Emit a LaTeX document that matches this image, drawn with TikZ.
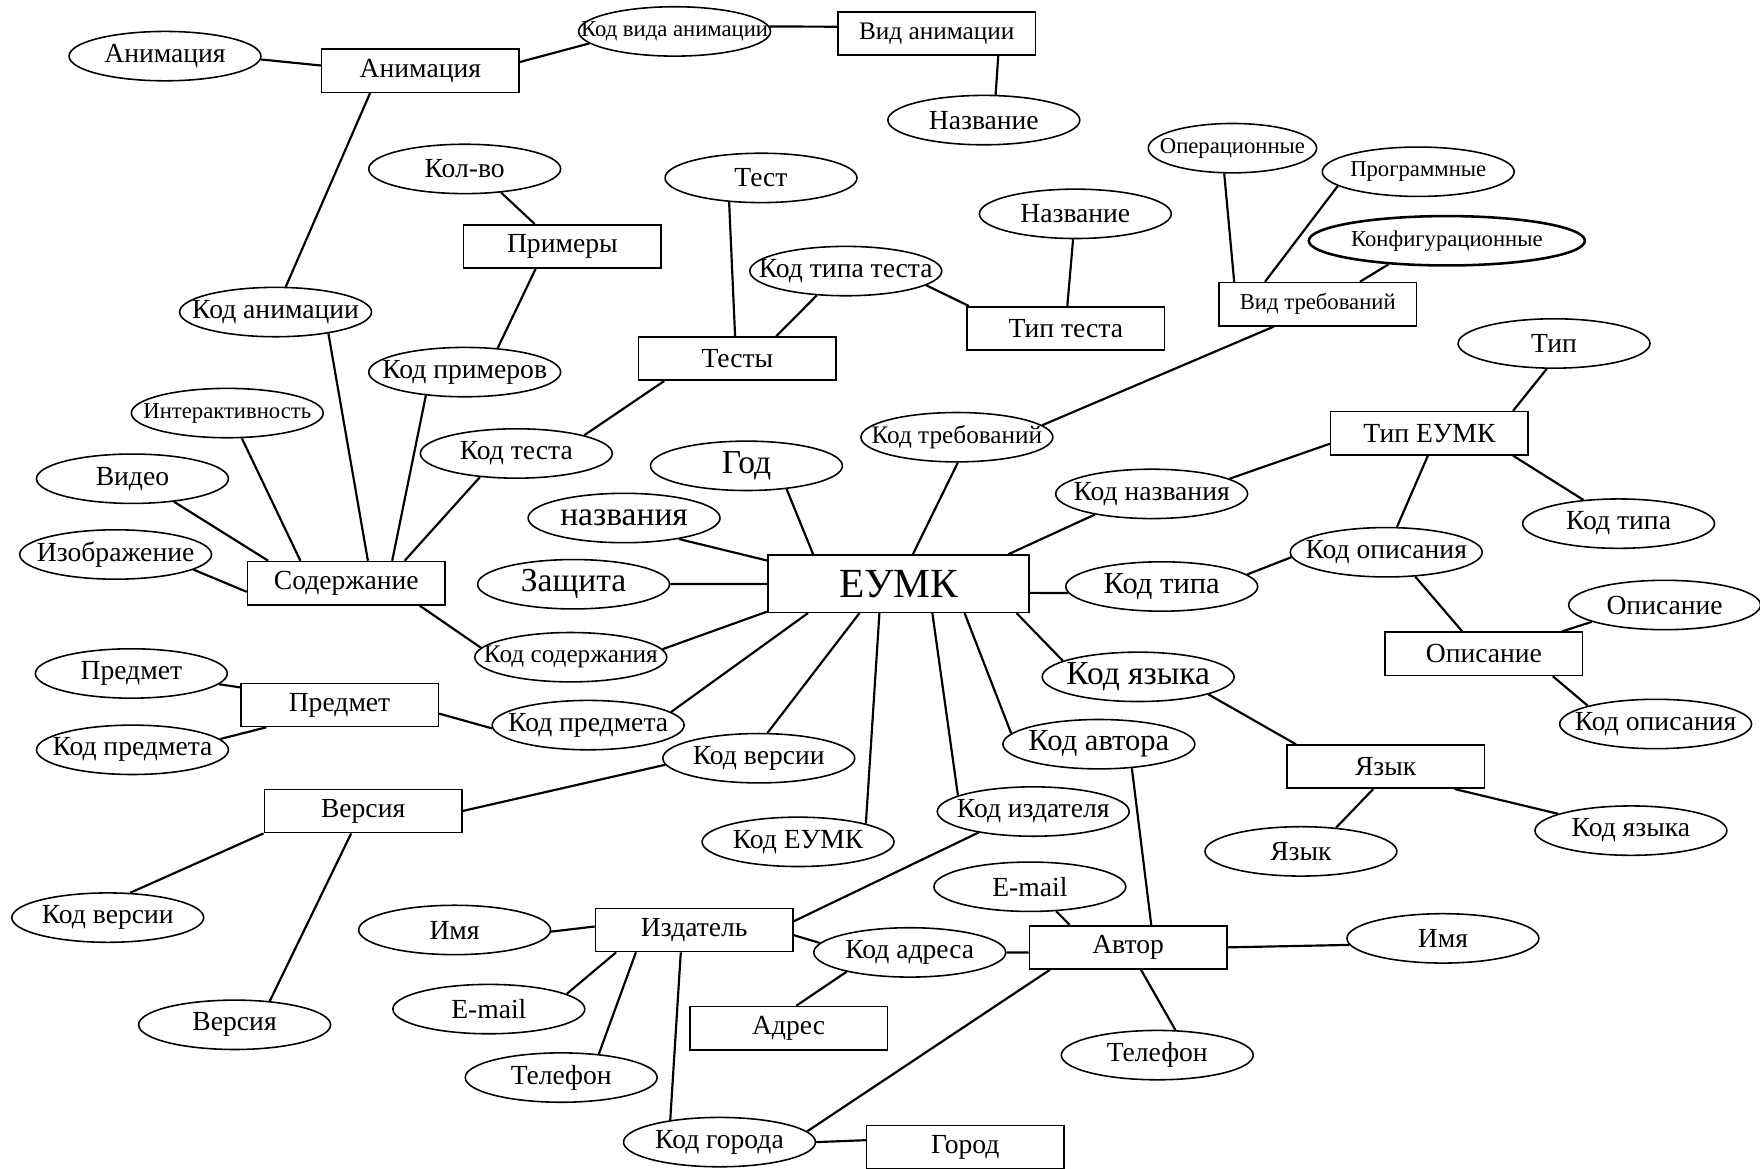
\documentclass[tikz,border=0pt]{standalone}
\usepackage{fontspec}
\setmainfont{Liberation Serif}
\usetikzlibrary{shapes.geometric}
\newcommand{\zw}[1]{\makebox[0pt]{#1}}
\tikzset{
  ent/.style={draw, line width=0.8pt, inner sep=0pt, minimum width=3.52cm, minimum height=0.77cm, font=\fontsize{14}{16}\selectfont},
  attr/.style={draw, ellipse, line width=0.8pt, inner sep=0pt, minimum width=3.42cm, minimum height=0.88cm, font=\fontsize{14}{16}\selectfont},
  smtxt/.style={font=\fontsize{11.5}{13}\selectfont},
  mdtxt/.style={font=\fontsize{12.8}{14}\selectfont},
  lgtxt/.style={font=\fontsize{15.5}{17}\selectfont},
  bgtxt/.style={font=\fontsize{17}{19}\selectfont},
  link/.style={line width=1.1pt},
}
\begin{document}
\begin{tikzpicture}[x=0.02cm, y=-0.02cm]
    \clip (0,0) rectangle (1568,1041);
    % entities
    \node[ent] (anim) at (374.5,63) {Анимация};
    \node[ent, mdtxt] (vidanim) at (834.5,30) {Вид анимации};
    \node[ent] (primery) at (501,219.5) {Примеры};
    \node[ent] (testy) at (657,319.5) {Тесты};
    \node[ent] (tiptesta) at (949.5,292.5) {Тип теста};
    \node[ent, smtxt] (vidtreb) at (1174,271) {Вид требований};
    \node[ent] (tipeumk) at (1273.5,386) {Тип ЕУМК};
    \node[ent] (soderzh) at (308.5,519.5) {Содержание};
    \node[ent] (opisanie) at (1322,582.5) {Описание};
    \node[ent] (predmet) at (302.5,628) {Предмет};
    \node[ent] (yazyk) at (1234.5,683) {Язык};
    \node[ent] (versiya) at (323.5,722.5) {Версия};
    \node[ent] (izdatel) at (618.5,828.5) {Издатель};
    \node[ent] (avtor) at (1005,844) {Автор};
    \node[ent] (adres) at (702.5,916) {Адрес};
    \node[ent] (gorod) at (860,1022) {Город};
    \node[ent, minimum width=4.66cm, minimum height=1.02cm, font=\fontsize{21}{24}\selectfont] (eumk) at (800.5,520) {ЕУМК};
    % attributes
    \node[attr] (a_anim) at (147,50) {\zw{Анимация}};
    \node[attr, smtxt] (a_kvidanim) at (601,28) {\zw{Код вида анимации}};
    \node[attr] (a_nazv1) at (876.5,107) {\zw{Название}};
    \node[attr] (a_kolvo) at (414,150.5) {\zw{Кол-во}};
    \node[attr] (a_test) at (678,158.5) {\zw{Тест}};
    \node[attr] (a_ktiptesta) at (753.5,241.5) {\zw{Код типа теста}};
    \node[attr] (a_nazv2) at (958,190.5) {\zw{Название}};
    \node[attr, smtxt, minimum width=3cm] (a_oper) at (1098,132) {\zw{Операционные}};
    \node[attr, smtxt] (a_progr) at (1263.5,153) {\zw{Программные}};
    \node[attr, smtxt, minimum width=4.92cm, line width=1.3pt] (a_konf) at (1289,214.5) {\zw{Конфигурационные}};
    \node[attr] (a_kanim) at (245.5,278) {\zw{Код анимации}};
    \node[attr] (a_kprim) at (414,331.5) {\zw{Код примеров}};
    \node[attr, smtxt] (a_inter) at (202.5,368) {\zw{Интерактивность}};
    \node[attr] (a_ktest) at (460,404) {\zw{Код теста}};
    \node[attr, mdtxt] (a_ktreb) at (852.5,389.5) {\zw{Код требований}};
    \node[attr] (a_tip) at (1384.5,306) {\zw{Тип}};
    \node[attr, bgtxt] (a_god) at (665,415) {\zw{Год}};
    \node[attr] (a_video) at (118,426.5) {\zw{Видео}};
    \node[attr, bgtxt] (a_nazvaniya) at (556,461.5) {\zw{названия}};
    \node[attr] (a_knazv) at (1026,440) {\zw{Код названия}};
    \node[attr] (a_kopis1) at (1235,492) {\zw{Код описания}};
    \node[attr] (a_ktipa2) at (1442,466.5) {\zw{Код типа}};
    \node[attr] (a_izobr) at (103,494) {\zw{Изображение}};
    \node[attr, bgtxt] (a_zashch) at (511,520.5) {\zw{Защита}};
    \node[attr, lgtxt] (a_ktipa1) at (1035,522.5) {\zw{Код типа}};
    \node[attr] (a_opis) at (1483,539) {\zw{Описание}};
    \node[attr, mdtxt] (a_ksod) at (508.5,585.5) {\zw{Код содержания}};
    \node[attr] (a_predm) at (117,600) {\zw{Предмет}};
    \node[attr, bgtxt] (a_kyaz1) at (1014,603) {\zw{Код языка}};
    \node[attr] (a_kpredm1) at (118,668) {\zw{Код предмета}};
    \node[attr] (a_kpredm2) at (524,646) {\zw{Код предмета}};
    \node[attr] (a_kopis2) at (1475,645) {\zw{Код описания}};
    \node[attr, lgtxt] (a_kavt) at (979,663) {\zw{Код автора}};
    \node[attr] (a_kvers2) at (676,675.5) {\zw{Код версии}};
    \node[attr] (a_kyaz2) at (1453,740) {\zw{Код языка}};
    \node[attr] (a_kizd) at (920.5,723) {\zw{Код издателя}};
    \node[attr] (a_keumk) at (711,750) {\zw{Код ЕУМК}};
    \node[attr] (a_yazyk) at (1159,758.5) {\zw{Язык}};
    \node[attr] (a_email2) at (917.5,790) {\zw{E-mail}};
    \node[attr] (a_kvers1) at (96,817.5) {\zw{Код версии}};
    \node[attr] (a_imya1) at (405,828.5) {\zw{Имя}};
    \node[attr] (a_kadr) at (810.5,848.5) {\zw{Код адреса}};
    \node[attr] (a_imya2) at (1285.5,836) {\zw{Имя}};
    \node[attr] (a_email1) at (435.5,899) {\zw{E-mail}};
    \node[attr] (a_versiya) at (209,913) {\zw{Версия}};
    \node[attr] (a_tel2) at (1031,940) {\zw{Телефон}};
    \node[attr] (a_tel1) at (500,960) {\zw{Телефон}};
    \node[attr] (a_kgor) at (641,1017.5) {\zw{Код города}};
    % links
    \draw[link] (a_anim.-2) -- (anim.177);
    \draw[link] (anim.5) -- (a_kvidanim.188);
    \draw[link] (a_kvidanim.3) -- (vidanim.176);
    \draw[link] (vidanim.-20) -- (a_nazv1.65);
    \draw[link] (anim.204) -- (a_kanim.68);
    \draw[link] (a_kanim.-22) -- (soderzh.46);
    \draw[link] (a_kolvo.-33) -- (primery.141);
    \draw[link] (primery.220) -- (a_kprim.36);
    \draw[link] (a_kprim.211) -- (soderzh.26);
    \draw[link] (a_inter.-60) -- (soderzh.154);
    \draw[link] (a_video.-29) -- (soderzh.164);
    \draw[link] (a_izobr.-11) -- (soderzh.185);
    \draw[link] (a_ktest.213) -- (soderzh.21);
    \draw[link] (testy.197) -- (a_ktest.15);
    \draw[link] (testy.96) -- (a_test.217);
    \draw[link] (testy.30) -- (a_ktiptesta.220);
    \draw[link] (a_ktiptesta.-10) -- (tiptesta.167);
    \draw[link] (a_nazv2.265) -- (tiptesta.86);
    \draw[link] (a_oper.252) -- (vidtreb.165);
    \draw[link] (a_progr.190) -- (vidtreb.157);
    \draw[link] (a_konf.202) -- (vidtreb.28);
    \draw[link] (vidtreb.207) -- (a_ktreb.8);
    \draw[link] (a_ktreb.272) -- (eumk.64);
    \draw[link] (a_god.-30) -- (eumk.161);
    \draw[link] (a_nazvaniya.-21) -- (eumk.170);
    \draw[link] (a_zashch) -- (eumk);
    \draw[link] (a_ksod.5) -- (eumk.192);
    \draw[link] (a_ksod.174) -- (soderzh.-17);
    \draw[link] (a_kpredm2.9) -- (eumk.198);
    \draw[link] (predmet.-5) -- (a_kpredm2.182);
    \draw[link] (a_predm.-7) -- (predmet.170);
    \draw[link] (a_kpredm1.7) -- (predmet.197);
    \draw[link] (a_kvers2.71) -- (eumk.217);
    \draw[link] (versiya.east) -- (a_kvers2.184);
    \draw[link] (versiya.south west) -- (a_kvers1.48);
    \draw[link] (versiya.242) -- (a_versiya.34);
    \draw[link] (a_keumk.15) -- (eumk.237);
    \draw[link] (eumk.-41) -- (a_kizd.168);
    \draw[link] (eumk.-24) -- (a_kavt.173);
    \draw[link] (eumk.-14) -- (a_kyaz1.168);
    \draw[link] (eumk.-4) -- (a_ktipa1.184);
    \draw[link] (eumk.15) -- (a_knazv.200);
    \draw[link] (a_knazv.11) -- (tipeumk.186);
    \draw[link] (a_tip.254) -- (tipeumk.15);
    \draw[link] (tipeumk.266) -- (a_kopis1.67);
    \draw[link] (tipeumk.-15) -- (a_ktipa2.146);
    \draw[link] (a_ktipa1.8) -- (a_kopis1.183);
    \draw[link] (a_kopis1.-40) -- (opisanie.134);
    \draw[link] (a_opis.193) -- (opisanie.16);
    \draw[link] (opisanie.-18) -- (a_kopis2.165);
    \draw[link] (a_kyaz1.-14) -- (yazyk.166);
    \draw[link] (yazyk.241) -- (a_yazyk.34);
    \draw[link] (yazyk.-18) -- (a_kyaz2.167);
    \draw[link] (a_kizd.201) -- (izdatel.5);
    \draw[link] (a_imya1.-1) -- (izdatel.178);
    \draw[link] (izdatel.196) -- (a_email1.11);
    \draw[link] (izdatel.201) -- (a_tel1.32);
    \draw[link] (izdatel.239) -- (a_kgor.156);
    \draw[link] (izdatel.-3) -- (a_kadr.174);
    \draw[link] (a_kadr.east) -- (avtor.183);
    \draw[link] (a_kadr.197) -- (adres.71);
    \draw[link] (a_email2.-43) -- (avtor.159);
    \draw[link] (a_kavt.-36) -- (avtor.44);
    \draw[link] (avtor.east) -- (a_imya2.184);
    \draw[link] (avtor.-60) -- (a_tel2.54);
    \draw[link] (avtor.196) -- (a_kgor.7);
    \draw[link] (a_kgor.east) -- (gorod.176);
\end{tikzpicture}
\end{document}
